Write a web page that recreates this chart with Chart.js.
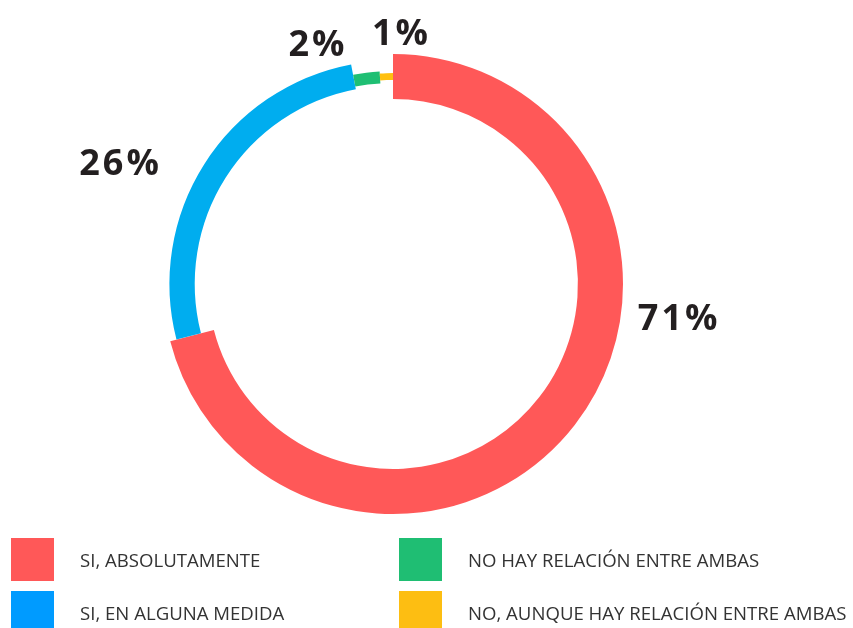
<!DOCTYPE html>
<html>
<head>
<meta charset="utf-8">
<script src="https://cdn.jsdelivr.net/npm/chart.js@4/dist/chart.umd.min.js"></script>
<style>
  html, body { margin: 0; padding: 0; background: #fff; }
  #wrap { position: relative; width: 853px; height: 628px; overflow: hidden; }
  #c { position: absolute; left: 0; top: 0; }
  .box { position: absolute; width: 43px; height: 43px; }
  .txt { position: absolute; font-family: "Open Sans", sans-serif; font-size: 18.6px; line-height: 19px; color: #333; white-space: nowrap; }
</style>
</head>
<body>
<div id="wrap">
  <canvas id="c" width="853" height="628"></canvas>
</div>
<script>
// ---- data ----
const LABELS = ["SI, ABSOLUTAMENTE", "SI, EN ALGUNA MEDIDA", "NO HAY RELACIÓN ENTRE AMBAS", "NO, AUNQUE HAY RELACIÓN ENTRE AMBAS"];
const VALUES = [71, 26, 2, 1];
const RING_COLORS = ["#FF5858", "#00ADEF", "#1FBF73", "#FFC00F"];
const LEGEND_COLORS = ["#FF5858", "#009BFF", "#1FBE73", "#FDBE12"];

// ---- styling (ring thickness per slice, label placement, legend layout) ----
const OUTER_F = [1.0, 0.972, 0.926, 0.917];
const INNER_F = [0.804, 0.862, 0.874, 0.887];
const LABEL_ANGLE = [96.7, 294, 342.4, 1.6];
const LABEL_DIST = [1.246, 1.304, 1.10, 1.094];
const LEGEND_ORDER = [0, 1, 2, 3];
const LEGEND_COL_X = [11, 399];
const LEGEND_ROW_Y = [538, 591];

const ringPlugin = {
  id: 'ringWidths',
  beforeDatasetsDraw(chart) {
    const meta = chart.getDatasetMeta(0);
    const R = meta.controller.outerRadius;
    meta.data.forEach((arc, i) => {
      arc.outerRadius = R * OUTER_F[i];
      arc.innerRadius = R * INNER_F[i];
    });
  }
};

const pctPlugin = {
  id: 'pctLabels',
  afterDatasetsDraw(chart) {
    const ctx = chart.ctx;
    const meta = chart.getDatasetMeta(0);
    const R = meta.controller.outerRadius;
    const arc0 = meta.data[0];
    const cx = arc0.x, cy = arc0.y;
    const size = 36;
    const sp = 3;
    ctx.save();
    ctx.font = 'bold ' + size + 'px "Open Sans"';
    ctx.fillStyle = '#231F20';
    ctx.textAlign = 'left';
    ctx.textBaseline = 'alphabetic';
    if ('letterSpacing' in ctx) ctx.letterSpacing = sp + 'px';
    chart.data.datasets[0].data.forEach((v, i) => {
      const a = LABEL_ANGLE[i] * Math.PI / 180;
      const d = R * LABEL_DIST[i];
      const x = cx + d * Math.sin(a);
      const y = cy - d * Math.cos(a);
      const s = v + '%';
      const w = ctx.measureText(s).width - sp;
      ctx.fillText(s, x - w / 2, y + 0.357 * size);
    });
    ctx.restore();
  }
};

const chart = new Chart(document.getElementById('c'), {
  type: 'doughnut',
  data: {
    labels: LABELS,
    datasets: [{
      data: VALUES,
      backgroundColor: RING_COLORS,
      borderWidth: 0,
      hoverOffset: 0
    }]
  },
  options: {
    responsive: false,
    animation: false,
    events: [],
    cutout: '80%',
    layout: { padding: { left: 163, right: 230, top: 54, bottom: 114 } },
    plugins: { legend: { display: false }, tooltip: { enabled: false } }
  },
  plugins: [ringPlugin, pctPlugin]
});

// HTML legend built from chart data
const wrap = document.getElementById('wrap');
LEGEND_ORDER.forEach((idx, k) => {
  const col = Math.floor(k / 2), row = k % 2;
  const x = LEGEND_COL_X[col], y = LEGEND_ROW_Y[row];
  const b = document.createElement('div');
  b.className = 'box';
  b.style.left = x + 'px';
  b.style.top = y + 'px';
  b.style.background = LEGEND_COLORS[idx];
  wrap.appendChild(b);
  const t = document.createElement('div');
  t.className = 'txt';
  t.style.left = (x + 69) + 'px';
  t.style.top = (y + 12) + 'px';
  t.textContent = chart.data.labels[idx];
  wrap.appendChild(t);
});
</script>
</body>
</html>
